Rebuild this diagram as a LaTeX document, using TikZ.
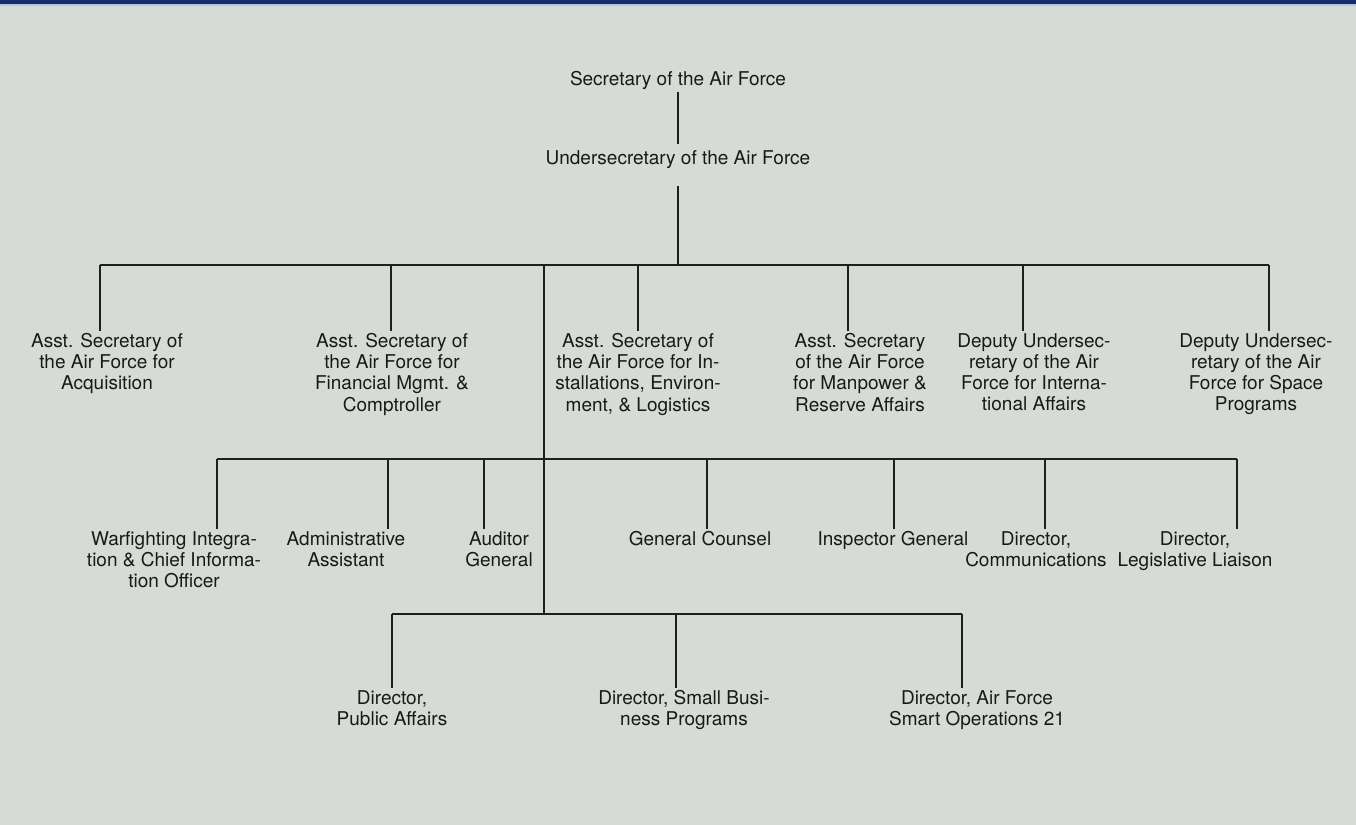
\documentclass[tikz,border=0pt]{standalone}
\usepackage{fontspec}
\setmainfont{TeX Gyre Heros}
\usetikzlibrary{positioning}

\definecolor{paper}{RGB}{215,219,213}
\definecolor{band}{RGB}{24,42,112}
\definecolor{bandedge}{RGB}{175,200,222}

\tikzset{
  office/.style={align=center, inner sep=1pt, anchor=north, text=black!90,
    font=\fontsize{9.5}{10.6}\selectfont},
  link/.style={line width=1.4pt, draw=black!88},
}

\begin{document}
\begin{tikzpicture}[x=0.5pt,y=-0.5pt]
    % paper and the strip along the top
    \fill[paper] (0,0) rectangle (1356,825);
    \fill[band] (0,0) rectangle (1356,4);
    \fill[bandedge] (0,4) rectangle (1356,6);
    \useasboundingbox (0,0) rectangle (1356,825);

    \node[office] (sec) at (678,69) {Secretary of the Air Force};
    \node[office] (under) at (678,148) {Undersecretary of the Air Force};

    \node[office] (acq) at (107,331) {Asst. Secretary of\\the Air Force for\\Acquisition};
    \node[office] (fin) at (392,331) {Asst. Secretary of\\the Air Force for\\Financial Mgmt. \&\\Comptroller};
    \node[office] (inst) at (638,331) {Asst. Secretary of\\the Air Force for In-\\stallations, Environ-\\ment, \& Logistics};
    \node[office] (manp) at (860,331) {Asst. Secretary\\of the Air Force\\for Manpower \&\\Reserve Affairs};
    \node[office] (intl) at (1034,331) {Deputy Undersec-\\retary of the Air\\Force for Interna-\\tional Affairs};
    \node[office] (space) at (1256,331) {Deputy Undersec-\\retary of the Air\\Force for Space\\Programs};

    \node[office] (warf) at (174,529) {Warfighting Integra-\\tion \& Chief Informa-\\tion Officer};
    \node[office] (admin) at (346,529) {Administrative\\Assistant};
    \node[office] (audit) at (499,529) {Auditor\\General};
    \node[office] (counsel) at (700,529) {General Counsel};
    \node[office] (insp) at (893,529) {Inspector General};
    \node[office] (comm) at (1036,529) {Director,\\Communications};
    \node[office] (legis) at (1195,529) {Director,\\Legislative Liaison};

    \node[office] (pub) at (392,688) {Director,\\Public Affairs};
    \node[office] (small) at (684,688) {Director, Small Busi-\\ness Programs};
    \node[office] (smart) at (977,688) {Director, Air Force\\Smart Operations 21};

    % junctions on the three bars
    \coordinate (top) at (678,265);
    \coordinate (trunk) at (544,265);
    \coordinate (mid) at (544,459);
    \coordinate (low) at (544,614);

    \coordinate (d1) at (100,265);
    \coordinate (d2) at (391,265);
    \coordinate (d3) at (638,265);
    \coordinate (d4) at (848,265);
    \coordinate (d5) at (1023,265);
    \coordinate (d6) at (1269,265);

    \coordinate (e1) at (217,459);
    \coordinate (e2) at (388,459);
    \coordinate (e3) at (484,459);
    \coordinate (e4) at (707,459);
    \coordinate (e5) at (894,459);
    \coordinate (e6) at (1045,459);
    \coordinate (e7) at (1237,459);

    \coordinate (f1) at (392,614);
    \coordinate (f2) at (676,614);
    \coordinate (f3) at (962,614);

    \draw[link, shorten >=2pt] (sec) -- (under);
    \draw[link, shorten <=7.5pt] (under) -- (top);

    \draw[link] (d1) -- (d6);
    \draw[link] (trunk) -- (low);
    \draw[link] (e1) -- (e7);
    \draw[link] (f1) -- (f3);

    \draw[link] (d1) -- (d1 |- acq.north);
    \draw[link] (d2) -- (d2 |- fin.north);
    \draw[link] (d3) -- (d3 |- inst.north);
    \draw[link] (d4) -- (d4 |- manp.north);
    \draw[link] (d5) -- (d5 |- intl.north);
    \draw[link] (d6) -- (d6 |- space.north);

    \draw[link] (e1) -- (e1 |- warf.north);
    \draw[link] (e2) -- (e2 |- admin.north);
    \draw[link] (e3) -- (e3 |- audit.north);
    \draw[link] (e4) -- (e4 |- counsel.north);
    \draw[link] (e5) -- (e5 |- insp.north);
    \draw[link] (e6) -- (e6 |- comm.north);
    \draw[link] (e7) -- (e7 |- legis.north);

    \draw[link] (f1) -- (f1 |- pub.north);
    \draw[link] (f2) -- (f2 |- small.north);
    \draw[link] (f3) -- (f3 |- smart.north);
\end{tikzpicture}
\end{document}
